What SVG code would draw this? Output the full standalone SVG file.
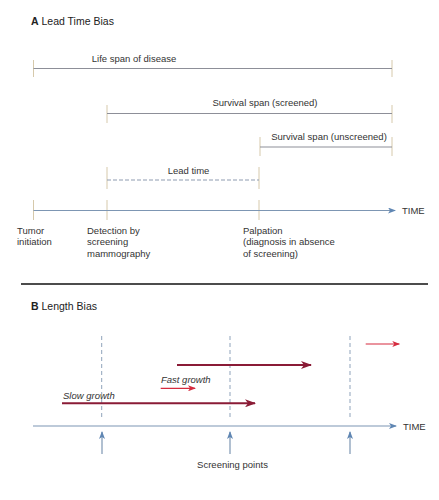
<svg xmlns="http://www.w3.org/2000/svg" width="439" height="500" viewBox="0 0 439 500">
<defs>
<style>
text{font-family:"Liberation Sans",Arial,sans-serif;fill:#333;font-size:9.5px}
.title{font-size:10.5px;fill:#222}
.tb{font-weight:bold}
.it{font-style:italic}
.span{stroke:#8d8f98;stroke-width:1;fill:none}
.tick{stroke:#d6c9ab;stroke-width:1;fill:none}
.lead{stroke:#8e9bb0;stroke-width:1;stroke-dasharray:4 2;fill:none}
.axis{stroke:#7d96b3;stroke-width:1.2;fill:none}
.vdash{stroke:#8fa3bb;stroke-width:1;stroke-dasharray:4 3;fill:none}
.dark{stroke:#8a1b36;stroke-width:2;fill:none}
.bright{stroke:#d52b3e;stroke-width:1.2;fill:none}
</style>
<marker id="ab" markerWidth="8" markerHeight="6" refX="7" refY="3" orient="auto" markerUnits="userSpaceOnUse"><path d="M0,0 L8,3 L0,6 L2,3 Z" fill="#5f86b3"/></marker>
<marker id="ad" markerWidth="11" markerHeight="8" refX="10" refY="4" orient="auto" markerUnits="userSpaceOnUse"><path d="M0,0 L11,4 L0,8 L3,4 Z" fill="#8a1b36"/></marker>
<marker id="ar" markerWidth="8" markerHeight="6" refX="7" refY="3" orient="auto" markerUnits="userSpaceOnUse"><path d="M0,0 L8,3 L0,6 L2,3 Z" fill="#d52b3e"/></marker>
</defs>
<rect width="439" height="500" fill="#ffffff"/>

<g id="panelA">
<text class="title" x="31" y="25"><tspan class="tb">A</tspan> Lead Time Bias</text>
</g>

<g id="lifespan">
<line class="tick" x1="33.5" y1="60" x2="33.5" y2="77"/>
<line class="tick" x1="392" y1="60" x2="392" y2="77"/>
<text x="134" y="62" text-anchor="middle">Life span of disease</text>
</g>
<g id="survscreened">
<line class="tick" x1="107" y1="105" x2="107" y2="123"/>
<line class="tick" x1="392" y1="105" x2="392" y2="123"/>
<text x="265" y="106" text-anchor="middle">Survival span (screened)</text>
</g>
<g id="survunscreened">
<line class="tick" x1="260" y1="137" x2="260" y2="156"/>
<line class="tick" x1="392" y1="137" x2="392" y2="156"/>
<text x="329" y="140" text-anchor="middle">Survival span (unscreened)</text>
</g>
<g id="leadtime">
<line class="tick" x1="107" y1="167" x2="107" y2="189"/>
<line class="tick" x1="259" y1="167" x2="259" y2="189"/>
<text x="188.5" y="174" text-anchor="middle">Lead time</text>
</g>
<g id="timeA">
<line class="tick" x1="33.5" y1="200" x2="33.5" y2="220"/>
<line class="tick" x1="107" y1="200" x2="107" y2="220"/>
<line class="tick" x1="259" y1="200" x2="259" y2="220"/>
<text x="402" y="214">TIME</text>
</g>
<g id="tumor">
<text x="17" y="234">Tumor</text>
<text x="17" y="245">initiation</text>
</g>
<g id="detection">
<text x="87" y="234">Detection by</text>
<text x="87" y="245">screening</text>
<text x="87" y="256.5">mammography</text>
</g>
<g id="palpation">
<text x="243" y="234">Palpation</text>
<text x="243" y="245">(diagnosis in absence</text>
<text x="243" y="256.5">of screening)</text>
</g>

<line id="divider" x1="21" y1="284" x2="428" y2="284" stroke="#111" stroke-width="1.4"/>

<g id="panelB">
<text class="title" x="31" y="310"><tspan class="tb">B</tspan> Length Bias</text>
</g>
<g id="timeB">
<text x="403" y="430">TIME</text>
</g>
<g id="screening">
<text x="232.5" y="468" text-anchor="middle">Screening points</text>
</g>
<g id="slow">
<text class="it" x="63" y="398.5">Slow growth</text>
</g>
<g id="fast">
<text class="it" x="161" y="383">Fast growth</text>
</g>

<g id="connectors">
<line class="span" x1="33.5" y1="68.5" x2="392" y2="68.5"/>
<line class="span" x1="107" y1="113.5" x2="392" y2="113.5"/>
<line class="span" x1="260" y1="147" x2="392" y2="147"/>
<line class="lead" x1="107" y1="180" x2="259" y2="180"/>
<line class="axis" x1="33.5" y1="210.5" x2="395" y2="210.5" marker-end="url(#ab)"/>

<line class="vdash" x1="101.7" y1="336" x2="101.7" y2="418"/>
<line class="vdash" x1="230" y1="336" x2="230" y2="418"/>
<line class="vdash" x1="350" y1="336" x2="350" y2="418"/>
<line class="axis" x1="33" y1="426" x2="396" y2="426" marker-end="url(#ab)"/>
<line class="axis" x1="102" y1="454" x2="102" y2="432" marker-end="url(#ab)"/>
<line class="axis" x1="230" y1="454" x2="230" y2="432" marker-end="url(#ab)"/>
<line class="axis" x1="350" y1="454" x2="350" y2="432" marker-end="url(#ab)"/>

<line class="dark" x1="62" y1="403.3" x2="255" y2="403.3" marker-end="url(#ad)"/>
<line class="dark" x1="177" y1="365" x2="311" y2="365" marker-end="url(#ad)"/>
<line class="bright" x1="160.7" y1="388.3" x2="195" y2="388.3" marker-end="url(#ar)"/>
<line class="bright" x1="365.7" y1="344" x2="399.3" y2="344" marker-end="url(#ar)"/>
</g>
</svg>
